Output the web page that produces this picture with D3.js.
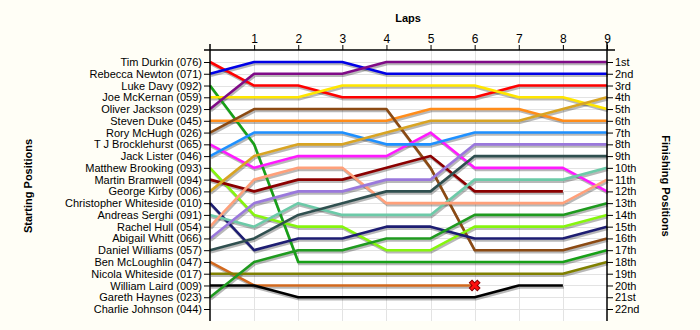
<!DOCTYPE html>
<html>
<head>
<meta charset="utf-8">
<script src="https://cdn.jsdelivr.net/npm/d3@7"></script>
<style>
  html, body { margin: 0; padding: 0; background: #fffef6; }
  svg { display: block; }
  text { font-family: "Liberation Sans", Arial, sans-serif; }
</style>
</head>
<body>
<svg id="chart" width="700" height="330"></svg>
<script>
// ---- Data ----
const laps = [0, 1, 2, 3, 4, 5, 6, 7, 8, 9];
const lapTicks = [1, 2, 3, 4, 5, 6, 7, 8, 9];
const drivers = [
  "Tim Durkin (076)", "Rebecca Newton (071)", "Luke Davy (092)", "Joe McKernan (059)",
  "Oliver Jackson (029)", "Steven Duke (045)", "Rory McHugh (026)", "T J Brocklehurst (065)",
  "Jack Lister (046)", "Matthew Brooking (093)", "Martin Bramwell (094)", "George Kirby (006)",
  "Christopher Whiteside (010)", "Andreas Serghi (091)", "Rachel Hull (054)", "Abigail Whitt (066)",
  "Daniel Williams (057)", "Ben McLoughlin (047)", "Nicola Whiteside (017)", "William Laird (009)",
  "Gareth Haynes (023)", "Charlie Johnson (044)"
];
const finishLabels = ["1st","2nd","3rd","4th","5th","6th","7th","8th","9th","10th","11th",
  "12th","13th","14th","15th","16th","17th","18th","19th","20th","21st","22nd"];
// positions per lap (lap 0..9); null = not running
const timDurkin       = [1, 3, 3, 4, 4, 4, 4, 3, 3, 3];
const rebeccaNewton   = [2, 1, 1, 1, 2, 2, 2, 2, 2, 2];
const lukeDavy        = [3, 8, 18, 18, 18, 18, 18, 18, 18, 17];
const joeMcKernan     = [4, 4, 4, 3, 3, 3, 3, 4, 4, 5];
const oliverJackson   = [5, 2, 2, 2, 1, 1, 1, 1, 1, 1];
const stevenDuke      = [6, 6, 6, 6, 6, 5, 5, 5, 6, 6];
const roryMcHugh      = [7, 5, 5, 5, 5, 10, 17, 17, 17, 16];
const tjBrocklehurst  = [8, 10, 9, 9, 9, 7, 10, 10, 10, 12];
const jackLister      = [9, 7, 7, 7, 8, 8, 7, 7, 7, 7];
const matthewBrooking = [10, 14, 15, 15, 17, 17, 15, 15, 15, 14];
const martinBramwell  = [11, 12, 11, 11, 10, 9, 12, 12, 12, null];
const georgeKirby     = [12, 9, 8, 8, 7, 6, 6, 6, 5, 4];
const chrisWhiteside  = [13, 17, 16, 16, 15, 15, 16, 16, 16, 15];
const andreasSerghi   = [14, 15, 13, 14, 14, 14, 11, 11, 11, 10];
const rachelHull      = [15, 11, 10, 10, 13, 13, 13, 13, 13, 11];
const abigailWhitt    = [16, 13, 12, 12, 11, 11, 8, 8, 8, 8];
const danielWilliams  = [17, 16, 14, 13, 12, 12, 9, 9, 9, 9];
const benMcLoughlin   = [18, 20, 20, 20, 20, 20, 20, null, null, null];
const nicolaWhiteside = [19, 19, 19, 19, 19, 19, 19, 19, 19, 18];
const williamLaird    = [20, 20, 21, 21, 21, 21, 21, 20, 20, null];
const garethHaynes    = [21, 18, 17, 17, 16, 16, 14, 14, 14, 13];
const charlieJohnson  = [null, null, null, null, null, null, null, null, null, null];
const retirements = [{ driver: 17, lap: 6, pos: 20 }];

const seriesList = [timDurkin, rebeccaNewton, lukeDavy, joeMcKernan, oliverJackson, stevenDuke,
  roryMcHugh, tjBrocklehurst, jackLister, matthewBrooking, martinBramwell, georgeKirby,
  chrisWhiteside, andreasSerghi, rachelHull, abigailWhitt, danielWilliams, benMcLoughlin,
  nicolaWhiteside, williamLaird, garethHaynes, charlieJohnson];
const colors = ["#ff0000", "#0000e6", "#17a017", "#ffe600", "#7f0b87", "#ff8c1a",
  "#8b4a13", "#ff1aff", "#1e90ff", "#86f50e", "#8b0000", "#d8a423",
  "#1d1d72", "#6ccaa8", "#ffa07a", "#9a78dc", "#2f4f4f", "#d2691e",
  "#808000", "#000000", "#1f9a1f", "#444444"];

// ---- Layout ----
const svg = d3.select("#chart");
const x = d3.scaleLinear().domain([0, 9]).range([210, 607]);
const y = d3.scaleLinear().domain([1, 22]).range([62, 309]);
const plotTop = 50, plotBottom = 321;

svg.append("rect").attr("x", 210).attr("y", plotTop).attr("width", 397).attr("height", plotBottom - plotTop).attr("fill", "#ffffff");

// grid
const grid = svg.append("g").attr("stroke", "#e3e3e3").attr("stroke-width", 1);
grid.selectAll("line.h").data(d3.range(1, 23)).join("line").attr("class", "h")
  .attr("x1", 210).attr("x2", 607).attr("y1", d => Math.round(y(d)) + 0.5).attr("y2", d => Math.round(y(d)) + 0.5);
grid.selectAll("line.v").data(lapTicks.slice(0, 8)).join("line").attr("class", "v")
  .attr("x1", d => Math.round(x(d)) + 0.5).attr("x2", d => Math.round(x(d)) + 0.5).attr("y1", plotTop).attr("y2", plotBottom);

// lines
const line = d3.line().defined(d => d.p != null).x(d => x(d.lap)).y(d => y(d.p));
const seriesData = seriesList.map((s, i) => ({ i, pts: laps.map((l, k) => ({ lap: l, p: s[k] })) }));

const shadowG = svg.append("g").attr("transform", "translate(1,2)");
shadowG.selectAll("path").data(seriesData).join("path")
  .attr("d", d => line(d.pts)).attr("fill", "none")
  .attr("stroke", "rgba(0,0,0,0.28)").attr("stroke-width", 2.6).attr("stroke-linejoin", "round");

const lineG = svg.append("g");
lineG.selectAll("path").data(seriesData).join("path")
  .attr("d", d => line(d.pts)).attr("fill", "none")
  .attr("stroke", d => colors[d.i]).attr("stroke-width", 2.6).attr("stroke-linejoin", "round");

// retirement marker
svg.selectAll("path.x").data(retirements).join("path")
  .attr("class", "x")
  .attr("d", d3.symbol(d3.symbolCross, 70))
  .attr("transform", d => `translate(${x(d.lap)},${y(d.pos)}) rotate(45)`)
  .attr("fill", "#ff1010").attr("stroke", "#8a0000").attr("stroke-width", 1);

// axes
const axisTop = svg.append("g").attr("transform", `translate(0,${plotTop})`)
  .call(d3.axisTop(x).tickValues(lapTicks).tickSize(5).tickPadding(2).tickFormat(d3.format("d")));
axisTop.select(".domain").remove();
axisTop.append("line").attr("x1", 204).attr("x2", 615).attr("y1", 0).attr("y2", 0).attr("stroke", "#000").attr("stroke-width", 1.5);
axisTop.selectAll("text").attr("font-size", 12).attr("fill", "#000").attr("font-family", "Liberation Sans, Arial, sans-serif");

const axisLeft = svg.append("g").attr("transform", "translate(210,0)")
  .call(d3.axisLeft(y).tickValues(d3.range(1, 23)).tickSize(6).tickPadding(2).tickFormat(d => drivers[d - 1]));
axisLeft.select(".domain").remove();
axisLeft.append("line").attr("x1", 0).attr("x2", 0).attr("y1", plotTop - 6).attr("y2", plotBottom).attr("stroke", "#000").attr("stroke-width", 1.5);
axisLeft.selectAll("text").attr("font-size", 11).attr("fill", "#000").attr("font-family", "Liberation Sans, Arial, sans-serif");

const axisRight = svg.append("g").attr("transform", "translate(607,0)")
  .call(d3.axisRight(y).tickValues(d3.range(1, 23)).tickSize(6).tickPadding(2).tickFormat(d => finishLabels[d - 1]));
axisRight.select(".domain").remove();
axisRight.append("line").attr("x1", 0).attr("x2", 0).attr("y1", plotTop - 8).attr("y2", plotBottom).attr("stroke", "#000").attr("stroke-width", 1.5);
axisRight.selectAll("text").attr("font-size", 11).attr("fill", "#000").attr("font-family", "Liberation Sans, Arial, sans-serif");

// titles
svg.append("text").attr("x", 408).attr("y", 22).attr("text-anchor", "middle")
  .attr("font-size", 11).attr("font-weight", "bold").text("Laps");
svg.append("text").attr("transform", "translate(32,186) rotate(-90)").attr("text-anchor", "middle")
  .attr("font-size", 11).attr("font-weight", "bold").text("Starting Positions");
svg.append("text").attr("transform", "translate(662,186) rotate(90)").attr("text-anchor", "middle")
  .attr("font-size", 11).attr("font-weight", "bold").text("Finishing Positions");
</script>
</body>
</html>
